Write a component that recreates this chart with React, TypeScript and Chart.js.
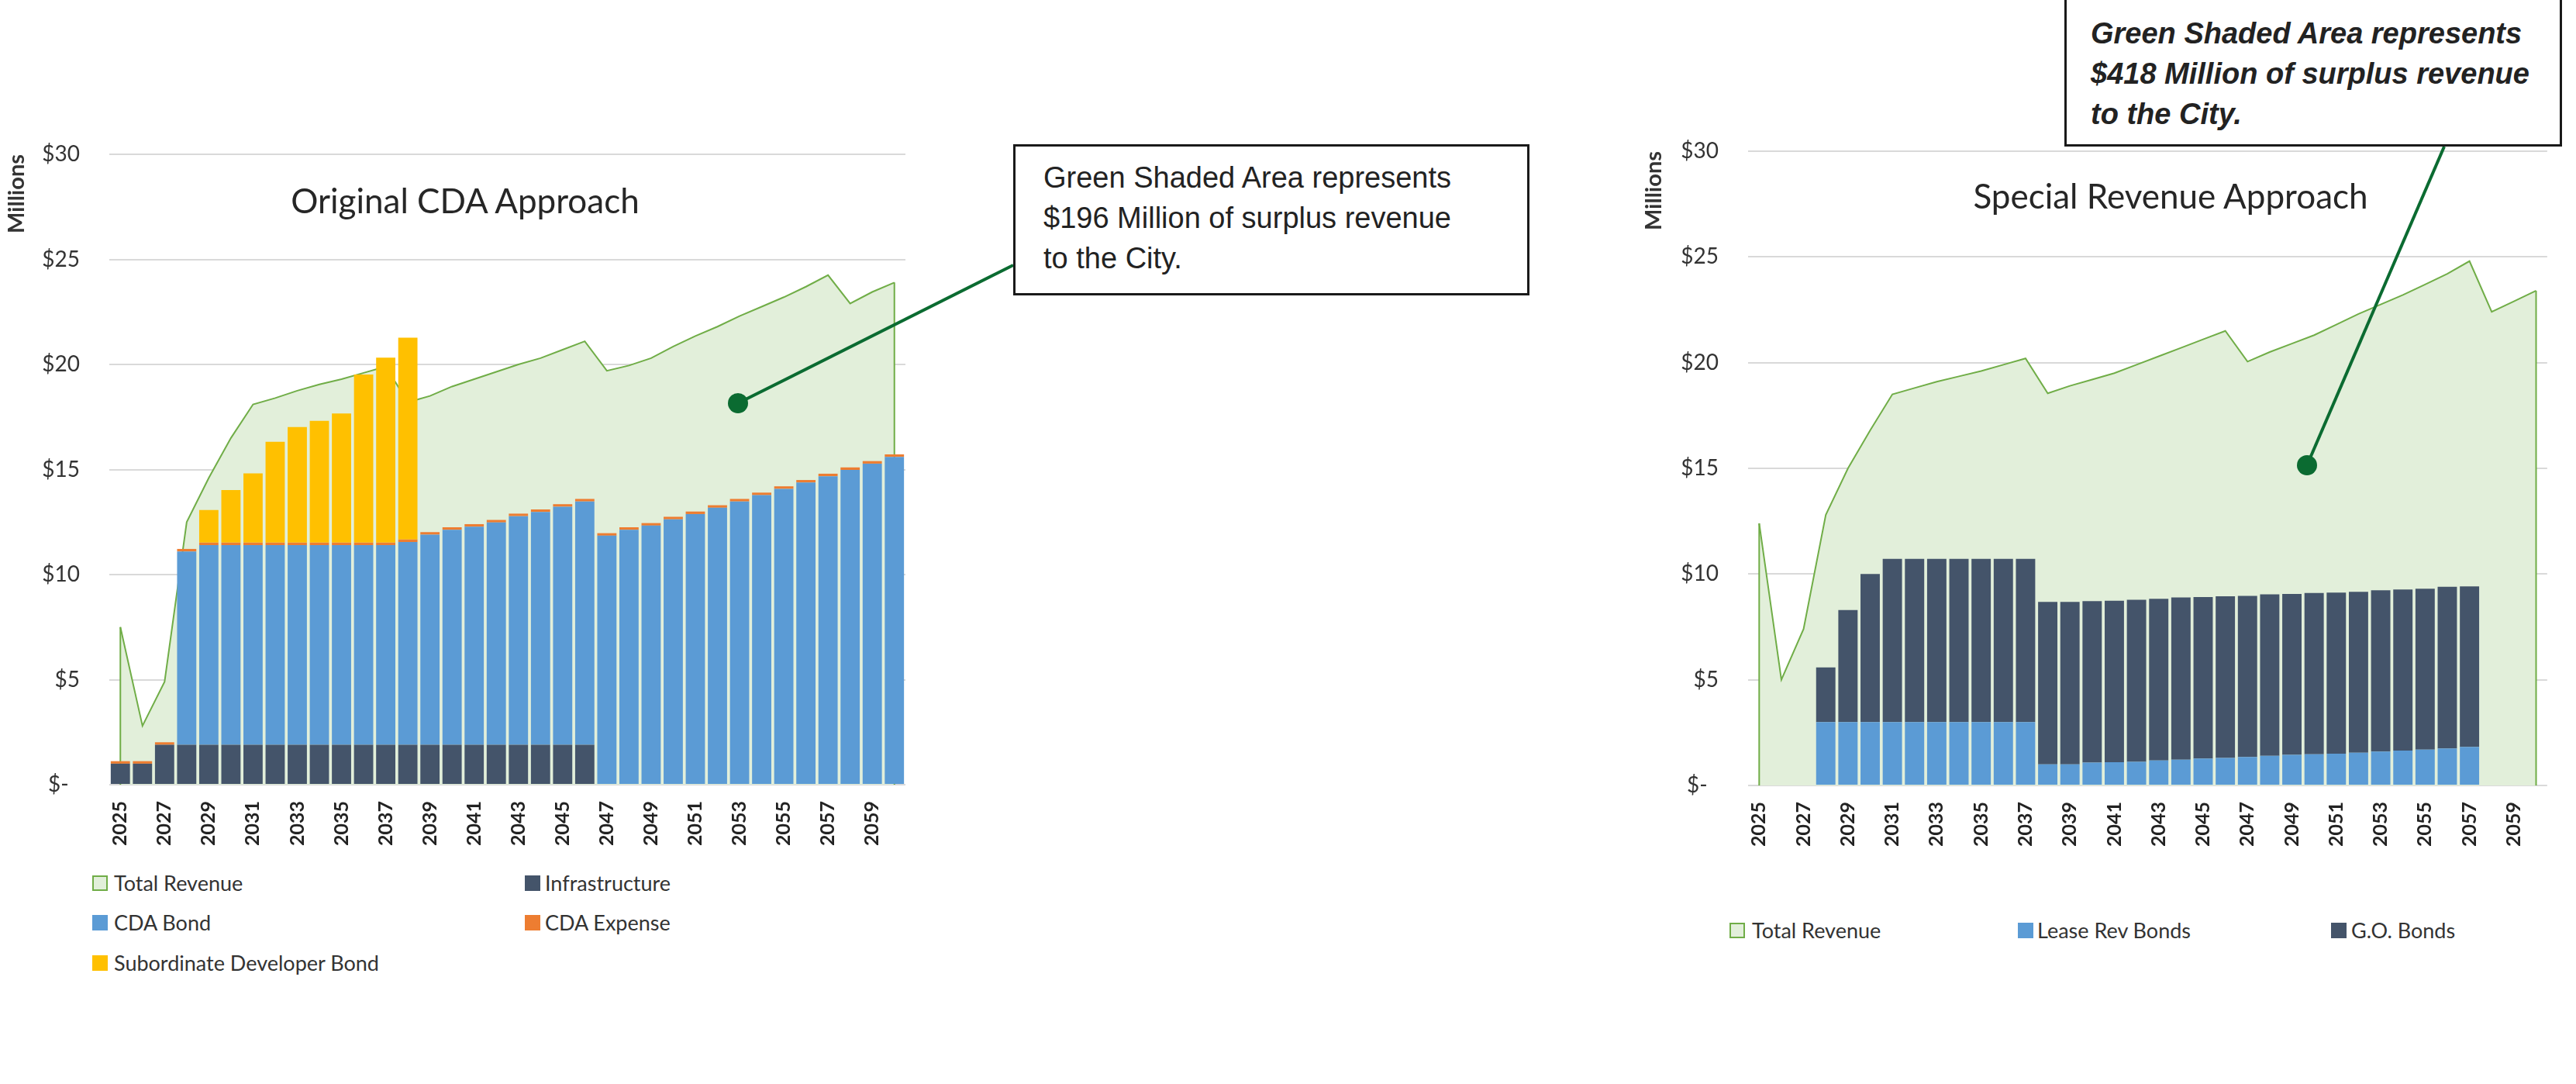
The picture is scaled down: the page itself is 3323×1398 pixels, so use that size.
import React, { useEffect, useRef } from 'react';
import { Chart, registerables } from 'chart.js';

Chart.register(...registerables);

// ---------- data ----------
const YEARS = [
  '2025', '2026', '2027', '2028', '2029', '2030', '2031', '2032', '2033', '2034',
  '2035', '2036', '2037', '2038', '2039', '2040', '2041', '2042', '2043', '2044',
  '2045', '2046', '2047', '2048', '2049', '2050', '2051', '2052', '2053', '2054',
  '2055', '2056', '2057', '2058', '2059', '2060',
];

const Y_TICKS = [0, 5, 10, 15, 20, 25, 30];

// Original CDA Approach ($ millions)
const LEFT_TOTAL_REVENUE = [
  7.5, 2.8, 4.9, 12.5, 14.6, 16.5, 18.1, 18.4, 18.75, 19.05,
  19.3, 19.6, 19.9, 18.2, 18.5, 18.95, 19.3, 19.65, 20.0, 20.3,
  20.7, 21.1, 19.7, 19.95, 20.3, 20.85, 21.35, 21.8, 22.3, 22.75,
  23.2, 23.7, 24.25, 22.9, 23.45, 23.9,
];
const LEFT_INFRASTRUCTURE = [
  1.0, 1.0, 1.9, 1.9, 1.9, 1.9, 1.9, 1.9, 1.9, 1.9,
  1.9, 1.9, 1.9, 1.9, 1.9, 1.9, 1.9, 1.9, 1.9, 1.9,
  1.9, 1.9, 0, 0, 0, 0, 0, 0, 0, 0,
  0, 0, 0, 0, 0, 0,
];
const LEFT_CDA_BOND = [
  0, 0, 0, 9.2, 9.5, 9.5, 9.5, 9.5, 9.5, 9.5,
  9.5, 9.5, 9.5, 9.65, 10.0, 10.23, 10.38, 10.58, 10.88, 11.08,
  11.33, 11.58, 11.85, 12.13, 12.33, 12.63, 12.88, 13.18, 13.48, 13.78,
  14.08, 14.38, 14.68, 14.98, 15.28, 15.6,
];
const LEFT_CDA_EXPENSE = [
  0.12, 0.12, 0.12, 0.12, 0.12, 0.12, 0.12, 0.12, 0.12, 0.12,
  0.12, 0.12, 0.12, 0.12, 0.12, 0.12, 0.12, 0.12, 0.12, 0.12,
  0.12, 0.12, 0.12, 0.12, 0.12, 0.12, 0.12, 0.12, 0.12, 0.12,
  0.12, 0.12, 0.12, 0.12, 0.12, 0.12,
];
const LEFT_SUBORDINATE = [
  0, 0, 0, 0, 1.55, 2.5, 3.3, 4.8, 5.5, 5.8,
  6.15, 8.0, 8.8, 9.6, 0, 0, 0, 0, 0, 0,
  0, 0, 0, 0, 0, 0, 0, 0, 0, 0,
  0, 0, 0, 0, 0, 0,
];

// Special Revenue Approach ($ millions)
const RIGHT_TOTAL_REVENUE = [
  12.4, 5.0, 7.4, 12.8, 15.0, 16.8, 18.5, 18.8, 19.1, 19.35,
  19.6, 19.9, 20.2, 18.55, 18.9, 19.2, 19.5, 19.9, 20.3, 20.7,
  21.1, 21.5, 20.05, 20.5, 20.9, 21.3, 21.8, 22.3, 22.75, 23.2,
  23.7, 24.2, 24.8, 22.4, 22.9, 23.4,
];
const RIGHT_LEASE_REV = [
  0, 0, 0, 3.0, 3.0, 3.0, 3.0, 3.0, 3.0, 3.0,
  3.0, 3.0, 3.0, 1.0, 1.0, 1.08, 1.1, 1.12, 1.18, 1.22,
  1.27, 1.3, 1.35, 1.4, 1.45, 1.48, 1.5, 1.55, 1.6, 1.65,
  1.7, 1.75, 1.82, 0, 0, 0,
];
const RIGHT_GO_BONDS = [
  0, 0, 0, 2.58, 5.3, 7.0, 7.72, 7.72, 7.72, 7.72,
  7.72, 7.72, 7.72, 7.68, 7.68, 7.64, 7.64, 7.66, 7.65, 7.67,
  7.64, 7.65, 7.62, 7.64, 7.61, 7.62, 7.62, 7.61, 7.63, 7.62,
  7.61, 7.65, 7.6, 0, 0, 0,
];

// ---------- styles ----------
const FONT = 'Lato, "Noto Sans", sans-serif';
const BOX_FONT = '"Liberation Sans", Arial, sans-serif';
const GREEN_LINE = '#70ad47';
const GREEN_FILL = '#e2efda';
const NAVY = '#44546a';
const BLUE = '#5b9bd5';
const ORANGE = '#ed7d31';
const GOLD = '#ffc000';
const TEXT = '#333333';
const CALLOUT = '#0b6b31';

// draws the vertical closing edges of the revenue area (first & last point down to zero)
const areaEdges = {
  id: 'areaEdges',
  afterDatasetDraw(chart: any, args: any) {
    const ds: any = chart.data.datasets[args.index];
    if (!ds.edgeLines) return;
    const pts = args.meta.data;
    if (!pts || !pts.length) return;
    const y0 = chart.scales.y.getPixelForValue(0);
    const ctx = chart.ctx;
    ctx.save();
    ctx.strokeStyle = ds.borderColor;
    ctx.lineWidth = ds.borderWidth;
    ctx.beginPath();
    [pts[0], pts[pts.length - 1]].forEach((p: any) => {
      ctx.moveTo(p.x, p.y);
      ctx.lineTo(p.x, y0);
    });
    ctx.stroke();
    ctx.restore();
  },
};

type Geo = {
  left: number; top: number; width: number; height: number;
  padTop: number; padRight: number; padBottom: number;
  yWidth: number; xHeight: number; titlePad: number;
};

function ComboChart({ geo, datasets }: { geo: Geo; datasets: any[] }) {
  const ref = useRef<HTMLCanvasElement>(null);
  useEffect(() => {
    const chart = new Chart(ref.current as HTMLCanvasElement, {
      type: 'bar',
      data: { labels: YEARS, datasets },
      options: {
        animation: false,
        responsive: false,
        maintainAspectRatio: false,
        layout: { padding: { top: geo.padTop, right: geo.padRight, bottom: geo.padBottom, left: 0 } },
        datasets: { bar: { categoryPercentage: 1, barPercentage: 0.87 } },
        plugins: { legend: { display: false }, tooltip: { enabled: false } },
        scales: {
          x: {
            stacked: true,
            offset: true,
            grid: { display: false, drawTicks: false },
            border: { display: false },
            ticks: {
              autoSkip: false,
              maxRotation: 90,
              minRotation: 90,
              padding: 21,
              color: '#222222',
              font: { family: FONT, size: 25, weight: 'bold' },
              callback(this: any, value: any, index: number) {
                return index % 2 === 0 ? this.getLabelForValue(value) : '';
              },
            },
            afterFit(scale: any) { scale.height = geo.xHeight; },
          },
          y: {
            stacked: true,
            min: Y_TICKS[0],
            max: Y_TICKS[Y_TICKS.length - 1],
            afterBuildTicks(scale: any) { scale.ticks = Y_TICKS.map((v) => ({ value: v })); },
            grid: { color: '#d9d9d9', lineWidth: 2, drawTicks: false },
            border: { display: false },
            ticks: {
              padding: 38,
              color: TEXT,
              font: { family: FONT, size: 28 },
              callback: (v: any) => (Number(v) === 0 ? '$-  ' : '$' + v),
            },
            title: {
              display: true,
              text: 'Millions',
              align: 'end',
              color: TEXT,
              padding: { top: geo.titlePad, bottom: 0 },
              font: { family: FONT, size: 29, weight: 'bold' },
            },
            afterFit(scale: any) { scale.width = geo.yWidth; },
          },
        },
      } as any,
      plugins: [areaEdges as any],
    });
    return () => chart.destroy();
  }, []);
  return (
    <canvas
      ref={ref}
      width={geo.width}
      height={geo.height}
      style={{ position: 'absolute', left: geo.left, top: geo.top, width: geo.width, height: geo.height }}
    />
  );
}

const revenueDataset = (data: number[]) => ({
  type: 'line',
  label: 'Total Revenue',
  data,
  borderColor: GREEN_LINE,
  borderWidth: 2,
  backgroundColor: GREEN_FILL,
  fill: 'origin',
  pointRadius: 0,
  tension: 0,
  stack: 'revenue',
  order: 2,
  edgeLines: true,
});

const barDataset = (label: string, data: number[], color: string) => ({
  type: 'bar',
  label,
  data,
  backgroundColor: color,
  borderWidth: 0,
  stack: 'costs',
  order: 1,
});

const LEFT_DATASETS = [
  revenueDataset(LEFT_TOTAL_REVENUE),
  barDataset('Infrastructure', LEFT_INFRASTRUCTURE, NAVY),
  barDataset('CDA Bond', LEFT_CDA_BOND, BLUE),
  barDataset('CDA Expense', LEFT_CDA_EXPENSE, ORANGE),
  barDataset('Subordinate Developer Bond', LEFT_SUBORDINATE, GOLD),
];

const RIGHT_DATASETS = [
  revenueDataset(RIGHT_TOTAL_REVENUE),
  barDataset('Lease Rev Bonds', RIGHT_LEASE_REV, BLUE),
  barDataset('G.O. Bonds', RIGHT_GO_BONDS, NAVY),
];

const LEFT_GEO: Geo = {
  left: 0, top: 0, width: 1250, height: 1120,
  padTop: 199, padRight: 82, padBottom: 8, yWidth: 141, xHeight: 100, titlePad: 4,
};
const RIGHT_GEO: Geo = {
  left: 2100, top: 0, width: 1223, height: 1120,
  padTop: 195, padRight: 35, padBottom: 7, yWidth: 155, xHeight: 100, titlePad: 16,
};

function LegendItem({ x, boxX, y, label, fill, border }: { x: number; boxX: number; y: number; label: string; fill: string; border?: string }) {
  return (
    <>
      <div
        style={{
          position: 'absolute', left: boxX, top: y - 10, width: 20, height: 20, boxSizing: 'border-box',
          background: fill, border: border ? `2px solid ${border}` : 'none',
        }}
      />
      <div
        style={{
          position: 'absolute', left: x, top: y - 18, height: 36, lineHeight: '36px',
          fontFamily: FONT, fontSize: 27, color: TEXT, whiteSpace: 'nowrap',
        }}
      >
        {label}
      </div>
    </>
  );
}

export default function App() {
  return (
    <div
      style={{
        position: 'absolute', left: 0, top: 0, width: 3323, height: 1398,
        background: '#ffffff', overflow: 'hidden',
      }}
    >
      <ComboChart geo={LEFT_GEO} datasets={LEFT_DATASETS} />
      <ComboChart geo={RIGHT_GEO} datasets={RIGHT_DATASETS} />

      {/* chart titles */}
      <div style={{ position: 'absolute', left: 300, top: 232, width: 600, textAlign: 'center', fontFamily: FONT, fontSize: 44, lineHeight: '52px', color: '#262626' }}>
        Original CDA Approach
      </div>
      <div style={{ position: 'absolute', left: 2500, top: 226, width: 600, textAlign: 'center', fontFamily: FONT, fontSize: 44, lineHeight: '52px', color: '#262626' }}>
        Special Revenue Approach
      </div>

      {/* legends */}
      <LegendItem boxX={119} x={147} y={1139} label="Total Revenue" fill={GREEN_FILL} border={GREEN_LINE} />
      <LegendItem boxX={677} x={703} y={1139} label="Infrastructure" fill={NAVY} />
      <LegendItem boxX={119} x={147} y={1190} label="CDA Bond" fill={BLUE} />
      <LegendItem boxX={677} x={703} y={1190} label="CDA Expense" fill={ORANGE} />
      <LegendItem boxX={119} x={147} y={1242} label="Subordinate Developer Bond" fill={GOLD} />

      <LegendItem boxX={2231} x={2260} y={1200} label="Total Revenue" fill={GREEN_FILL} border={GREEN_LINE} />
      <LegendItem boxX={2603} x={2628} y={1200} label="Lease Rev Bonds" fill={BLUE} />
      <LegendItem boxX={3007} x={3033} y={1200} label="G.O. Bonds" fill={NAVY} />

      {/* callout connectors */}
      <svg width={3323} height={1398} style={{ position: 'absolute', left: 0, top: 0, pointerEvents: 'none' }}>
        <line x1={952} y1={520} x2={1307} y2={342} stroke={CALLOUT} strokeWidth={4} />
        <circle cx={952} cy={520} r={13} fill={CALLOUT} />
        <line x1={2976} y1={600} x2={3153} y2={189} stroke={CALLOUT} strokeWidth={4} />
        <circle cx={2976} cy={600} r={13} fill={CALLOUT} />
      </svg>

      {/* callout boxes */}
      <div
        style={{
          position: 'absolute', left: 1307, top: 186, width: 666, height: 195, boxSizing: 'border-box',
          border: '3px solid #1a1a1a', background: '#ffffff', padding: '14px 0 0 36px',
          fontFamily: BOX_FONT, fontSize: 38, lineHeight: '52px', color: '#222222', whiteSpace: 'nowrap',
        }}
      >
        Green Shaded Area represents<br />$196 Million of surplus revenue<br />to the City.
      </div>
      <div
        style={{
          position: 'absolute', left: 2663, top: -10, width: 642, height: 199, boxSizing: 'border-box',
          border: '3px solid #1a1a1a', background: '#ffffff', padding: '24px 0 0 31px',
          fontFamily: BOX_FONT, fontSize: 38, lineHeight: '52px', color: '#222222', whiteSpace: 'nowrap',
          fontStyle: 'italic', fontWeight: 'bold',
        }}
      >
        Green Shaded Area represents<br />$418 Million of surplus revenue<br />to the City.
      </div>
    </div>
  );
}
